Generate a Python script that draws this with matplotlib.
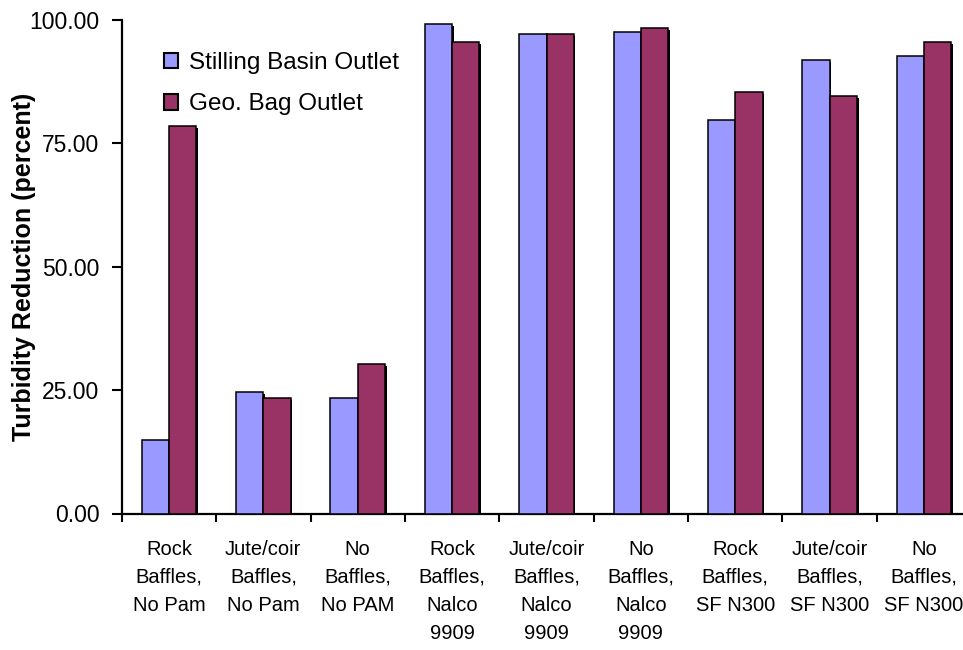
import matplotlib
matplotlib.use("Agg")
import matplotlib.pyplot as plt
import matplotlib.patheffects as pe
import numpy as np

plt.rcParams["font.family"] = ["Liberation Sans", "DejaVu Sans"]

categories = [
    "Rock\nBaffles,\nNo Pam",
    "Jute/coir\nBaffles,\nNo Pam",
    "No\nBaffles,\nNo PAM",
    "Rock\nBaffles,\nNalco\n9909",
    "Jute/coir\nBaffles,\nNalco\n9909",
    "No\nBaffles,\nNalco\n9909",
    "Rock\nBaffles,\nSF N300",
    "Jute/coir\nBaffles,\nSF N300",
    "No\nBaffles,\nSF N300",
]
stilling_basin = [14.8, 24.6, 23.4, 99.2, 97.1, 97.5, 79.7, 91.9, 92.7]
geo_bag = [78.5, 23.4, 30.2, 95.5, 97.1, 98.3, 85.4, 84.6, 95.5]
yticks = [0, 25, 50, 75, 100]

fig = plt.figure(figsize=(9.63, 6.5), dpi=100)
ax = fig.add_axes([0.1264, 0.21, 0.8822, 0.7592])

x = np.arange(len(categories))
w = 0.289
shadow = [pe.SimplePatchShadow(offset=(1.2, -1.2), shadow_rgbFace="black", alpha=1.0), pe.Normal()]
b1 = ax.bar(x - w / 2, stilling_basin, width=w, color="#9999FF", edgecolor="black",
            linewidth=1.1, label="Stilling Basin Outlet", zorder=3)
b2 = ax.bar(x + w / 2, geo_bag, width=w, color="#993366", edgecolor="black",
            linewidth=1.1, label="Geo. Bag Outlet", zorder=3)
for bar in list(b1) + list(b2):
    bar.set_path_effects(shadow)

ax.set_xlim(-0.5, len(categories) - 0.5)
ax.set_ylim(0, 100)

ax.set_yticks(yticks)
ax.set_yticklabels([f"{v:.2f}" for v in yticks])
ax.tick_params(axis="y", direction="out", length=7, width=1.5, labelsize=16.5, pad=9)

ax.set_xticks(x)
ax.set_xticklabels(categories, fontsize=14.5, linespacing=1.6, va="top")
ax.tick_params(axis="x", which="major", length=0, pad=19)
ax.set_xticks(np.arange(len(categories) + 1) - 0.5, minor=True)
ax.tick_params(axis="x", which="minor", direction="out", length=6, width=1.5)

for side in ("top", "right"):
    ax.spines[side].set_visible(False)
for side in ("left", "bottom"):
    ax.spines[side].set_linewidth(1.6)

ax.set_ylabel("Turbidity Reduction (percent)", fontsize=18, fontweight="bold", labelpad=-5)

leg = ax.legend(loc="upper left", bbox_to_anchor=(0.038, 0.955), frameon=False,
                fontsize=17.5, handlelength=0.6, handleheight=0.6,
                handletextpad=0.45, labelspacing=0.8, borderaxespad=0)
for h in leg.legend_handles:
    h.set_linewidth(1.5)
    h.set_path_effects([])

fig.savefig("out.png", dpi=100)
